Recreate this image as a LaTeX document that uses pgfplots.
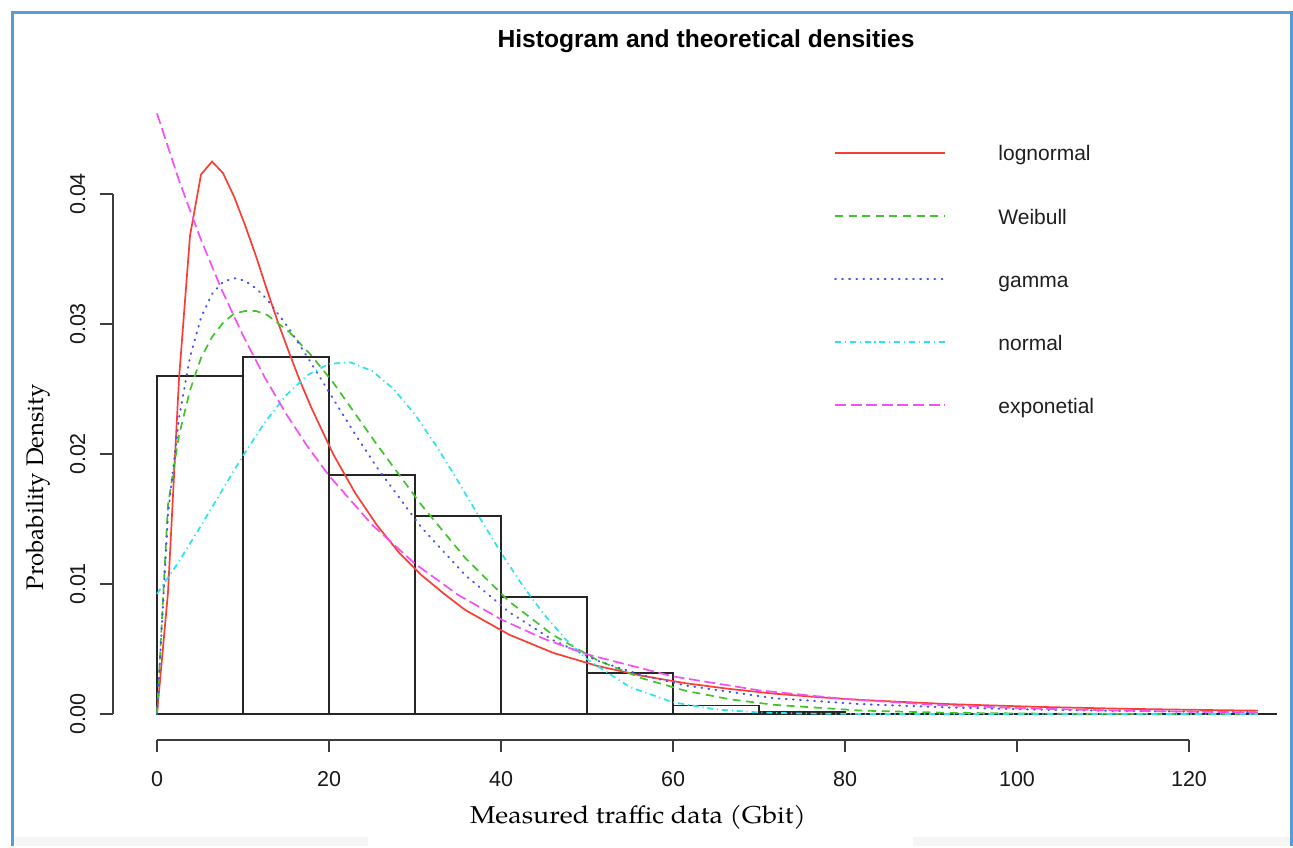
\documentclass[border=0pt]{standalone}
\usepackage{fontspec}
\usepackage{pgfplots}
\pgfplotsset{compat=1.18}
\newfontfamily\arial{Liberation Sans}
\newfontfamily\pal{TeX Gyre Pagella}
\newfontfamily\palwide[FakeStretch=1.1]{TeX Gyre Pagella}

\definecolor{lnred}{RGB}{250,62,52}
\definecolor{wbgreen}{RGB}{64,196,44}
\definecolor{gmblue}{RGB}{72,82,240}
\definecolor{nmcyan}{RGB}{40,228,238}
\definecolor{exmag}{RGB}{245,80,245}
\definecolor{axisgray}{RGB}{60,60,60}
\definecolor{framecol}{RGB}{91,155,213}

\begin{document}
\begin{tikzpicture}
% page = 1293 x 846 px, 1 px = 0.5 pt, y measured downwards
\begin{scope}[x=0.5pt,y=-0.5pt,shift={(0pt,423pt)}]
  \path[fill=white] (0,0) rectangle (1293,846);
  \fill[black!4] (15,837) rectangle (368,846);
  \fill[black!4] (913,837) rectangle (1290,846);
\end{scope}

\begin{axis}[
  at={(0pt,0pt)}, anchor=south west,
  scale only axis,
  width=646.5pt, height=423pt,
  xmin=-18.2558, xmax=132.093,
  ymin=-0.0101538, ymax=0.0549231,
  hide axis,
  clip=false,
]
% histogram, breaks every 10
\addplot[ybar interval, draw=black!85, line width=0.7pt, fill=none] coordinates {
  (0,0.0260) (10,0.02746) (20,0.01838) (30,0.01523) (40,0.0090)
  (50,0.00315) (60,0.00066) (70,0.00017) (80,0)
};
\addplot[black!85, line width=0.7pt] coordinates {(0,0) (130.2,0)};

% lognormal
\addplot[lnred, line width=0.85pt] coordinates {
  (0,0) (1.28,0.00937) (2.56,0.0258) (3.84,0.0368) (5.12,0.0415) (6.4,0.0425)
  (7.68,0.0416) (8.96,0.0398) (10.24,0.0376) (11.52,0.0352) (12.8,0.0326)
  (14.08,0.0301) (15.36,0.0278) (16.64,0.0256) (17.92,0.0236) (20.48,0.0200)
  (23.04,0.0170) (25.6,0.0145) (28.16,0.0124) (30.72,0.0107) (33.28,0.0093)
  (35.84,0.0080) (40.96,0.0061) (46.08,0.0047) (51.2,0.0037) (56.32,0.00295)
  (61.44,0.00237) (66.56,0.00193) (71.68,0.00157) (76.8,0.0013) (81.92,0.00108)
  (92.16,0.00076) (102.4,0.00055) (112.64,0.0004) (122.88,0.0003) (128,0.00026)
};
% Weibull
\addplot[wbgreen, line width=0.85pt, dash pattern=on 4pt off 2.8pt] coordinates {
  (0,0) (1.28,0.0161) (2.56,0.02145) (3.84,0.0249) (5.12,0.0274) (6.4,0.0290)
  (7.68,0.0301) (8.96,0.0308) (10.24,0.0310) (11.52,0.0310) (12.8,0.0307)
  (15.36,0.0294) (17.92,0.0276) (20.48,0.0255) (23.04,0.0231) (25.6,0.0207)
  (30.72,0.0161) (35.84,0.0120) (40.96,0.00865) (46.08,0.00606) (51.2,0.00414)
  (56.32,0.00276) (61.44,0.00179) (66.56,0.00114) (71.68,0.00071) (81.92,0.00026)
  (92.16,0.00009) (102.4,0.00003) (112.64,0.00001) (128,0)
};
% gamma
\addplot[gmblue, line width=1pt, line cap=round, dash pattern=on 0.4pt off 3.15pt] coordinates {
  (0,0) (1.28,0.01537) (2.56,0.02278) (3.84,0.02748) (5.12,0.03049) (6.4,0.03231)
  (7.68,0.03324) (8.96,0.03353) (10.24,0.03332) (11.52,0.03274) (12.8,0.03189)
  (15.36,0.02964) (17.92,0.02701) (20.48,0.02424) (23.04,0.02152) (25.6,0.01894)
  (30.72,0.01437) (35.84,0.01068) (40.96,0.00783) (46.08,0.00567) (51.2,0.00410)
  (56.32,0.00300) (61.44,0.00220) (71.68,0.00122) (81.92,0.00076) (92.16,0.00050)
  (102.4,0.00034) (112.64,0.00023) (122.88,0.00016) (128,0.00013)
};
% normal
\addplot[nmcyan, line width=0.85pt, dash pattern=on 3pt off 1.9pt on 0.6pt off 1.9pt] coordinates {
  (0,0.00924) (2.5,0.01168) (5,0.01435) (7.5,0.01713) (10,0.01987) (12.5,0.02239)
  (15,0.02451) (17.5,0.02607) (20,0.02694) (22.5,0.02705) (25,0.02639)
  (27.5,0.02501) (30,0.02303) (32.5,0.02060) (35,0.01791) (37.5,0.01512)
  (40,0.01241) (42.5,0.00989) (45,0.00766) (47.5,0.00576) (50,0.00421)
  (55,0.002065) (60,0.000903) (65,0.000351) (70,0.000122) (75,0.0000376)
  (80,0.00001) (90,0) (128,0)
};
% exponential
\addplot[exmag, line width=0.85pt, dash pattern=on 5.5pt off 2.3pt] coordinates {
  (0,0.0462) (2.5,0.04116) (5,0.03667) (7.5,0.03267) (10,0.02911) (12.5,0.02593)
  (15,0.02310) (17.5,0.02058) (20,0.01834) (25,0.01456) (30,0.01156)
  (35,0.00917) (40,0.00728) (45,0.00578) (50,0.00459) (60,0.00289)
  (70,0.00182) (80,0.00115) (90,0.000723) (100,0.000455) (110,0.000287)
  (120,0.000181) (128,0.000125)
};
\end{axis}

\begin{scope}[x=0.5pt,y=-0.5pt,shift={(0pt,423pt)}]
  % frame of the screenshot
  \draw[framecol, line width=1.5pt] (12,846) -- (12,13) -- (1291.5,13) -- (1291.5,846);
  % y axis
  \draw[axisgray, line width=0.75pt] (113,194) -- (113,714);
  \foreach \py/\lab in {194/0.04, 324/0.03, 454/0.02, 584/0.01, 714/0.00}{
    \draw[axisgray, line width=0.75pt] (100,\py) -- (113,\py);
    \node[rotate=90, anchor=base, inner sep=0pt, text=black!90,
          font=\arial\fontsize{10.75}{12}\selectfont] at (85,\py) {\lab};
  }
  % x axis
  \draw[axisgray, line width=0.75pt] (157,740) -- (1189,740);
  \foreach \px/\lab in {157/0, 329/20, 501/40, 673/60, 845/80, 1017/100, 1189/120}{
    \draw[axisgray, line width=0.75pt] (\px,740) -- (\px,752);
    \node[anchor=base, inner sep=0pt, text=black!90,
          font=\arial\fontsize{10.75}{12}\selectfont] at (\px,786.5) {\lab};
  }
  % titles
  \node[anchor=base, inner sep=0pt, font=\arial\bfseries\fontsize{12.3}{14}\selectfont]
    at (706,48) {Histogram and theoretical densities};
  \node[anchor=base, inner sep=0pt, font=\palwide\fontsize{12.2}{14}\selectfont]
    at (638,823) {Measured traffic data (Gbit)};
  \node[rotate=90, anchor=base, inner sep=0pt, font=\pal\fontsize{12}{14}\selectfont]
    at (43.5,487.5) {Probability Density};
  % legend
  \begin{scope}[every node/.style={anchor=base west, inner sep=0pt, text=black!88,
                font=\arial\fontsize{10.5}{12}\selectfont}]
    \draw[lnred, line width=0.85pt] (835,153) -- (945,153);
    \node at (998,161) {lognormal};
    \draw[wbgreen, line width=0.85pt, dash pattern=on 4pt off 2.8pt] (835,216) -- (945,216);
    \node at (998,224) {Weibull};
    \draw[gmblue, line width=1pt, line cap=round, dash pattern=on 0.4pt off 3.15pt] (835,279) -- (945,279);
    \node at (998,287) {gamma};
    \draw[nmcyan, line width=0.85pt, dash pattern=on 3pt off 1.9pt on 0.6pt off 1.9pt] (835,342) -- (945,342);
    \node at (998,350) {normal};
    \draw[exmag, line width=0.85pt, dash pattern=on 5.5pt off 2.3pt] (835,405) -- (945,405);
    \node at (998,413) {exponetial};
  \end{scope}
\end{scope}
\end{tikzpicture}
\end{document}
